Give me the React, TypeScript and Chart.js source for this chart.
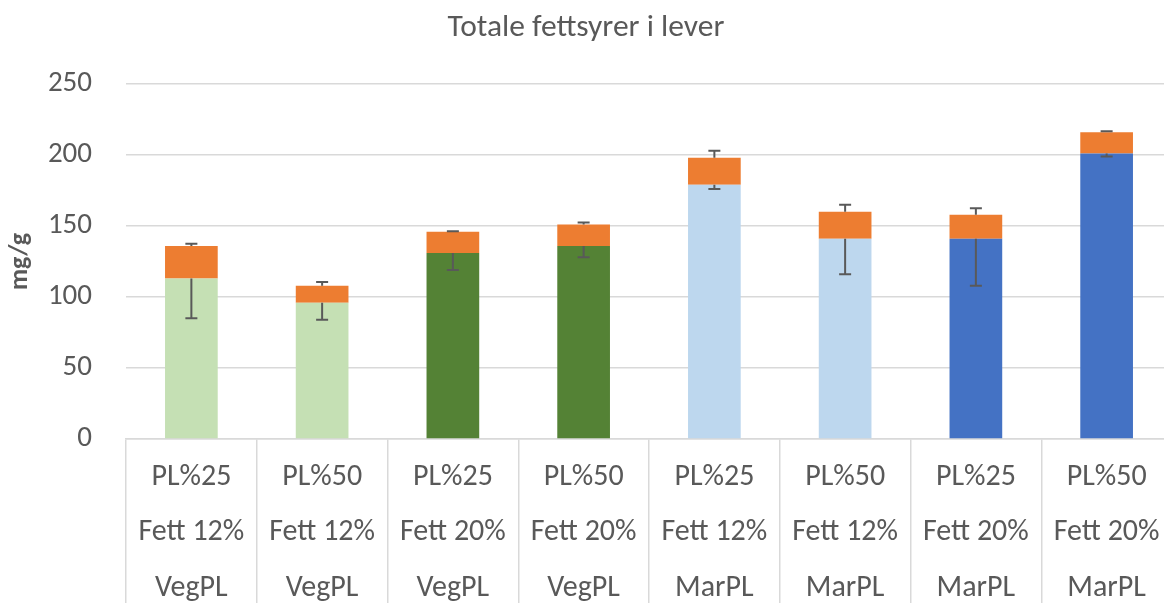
import React, { useEffect, useRef } from "react";
import { Chart, registerables } from "chart.js";

Chart.register(...registerables);

// ---- data ----
const plLabels = ["PL%25", "PL%50", "PL%25", "PL%50", "PL%25", "PL%50", "PL%25", "PL%50"];
const fatLabels = ["Fett 12%", "Fett 12%", "Fett 20%", "Fett 20%", "Fett 12%", "Fett 12%", "Fett 20%", "Fett 20%"];
const groupLabels = ["VegPL", "VegPL", "VegPL", "VegPL", "MarPL", "MarPL", "MarPL", "MarPL"];

const baseValues = [113, 96, 131, 136, 179, 141, 141, 201];
const topValues = [23, 12, 15, 15, 19, 19, 17, 15];
const baseErrMinus = [28, 12, 12, 8, 3, 25, 33, 2];
const topErrPlus = [1.5, 2.5, 0.3, 1.5, 5, 5, 4.5, 0.7];

const yTickValues = [0, 50, 100, 150, 200, 250];

const baseColors = ["#C5E0B4", "#C5E0B4", "#548235", "#548235", "#BDD7EE", "#BDD7EE", "#4472C4", "#4472C4"];
const topColor = "#ED7D31";

const TEXT = "#595959";
const GRID = "#D9D9D9";
const FONT = "Carlito, Lato, 'Open Sans', sans-serif";

const CANVAS_W = 1183;
const CANVAS_H = 640;

const errorBarPlugin = {
  id: "errorBars",
  afterDatasetsDraw(chart: any) {
    const { ctx, scales } = chart;
    const y = scales.y;
    const metaBase = chart.getDatasetMeta(0);
    const cap = 6;
    ctx.save();
    ctx.strokeStyle = TEXT;
    ctx.lineWidth = 2;
    baseValues.forEach((v, i) => {
      const px = metaBase.data[i].x;
      const y0 = y.getPixelForValue(v);
      const y1 = y.getPixelForValue(v - baseErrMinus[i]);
      ctx.beginPath();
      ctx.moveTo(px, y0);
      ctx.lineTo(px, y1);
      ctx.moveTo(px - cap, y1);
      ctx.lineTo(px + cap, y1);
      ctx.stroke();
      const total = v + topValues[i];
      const t0 = y.getPixelForValue(total);
      const t1 = y.getPixelForValue(total + topErrPlus[i]);
      ctx.beginPath();
      ctx.moveTo(px, t0);
      ctx.lineTo(px, t1);
      ctx.moveTo(px - cap, t1);
      ctx.lineTo(px + cap, t1);
      ctx.stroke();
    });
    ctx.restore();
  },
};

export default function App() {
  const ref = useRef<HTMLCanvasElement>(null);

  useEffect(() => {
    if (!ref.current) return;
    const labels = plLabels.map((p, i) => [p, fatLabels[i], groupLabels[i]]);
    const chart = new Chart(ref.current, {
      type: "bar",
      data: {
        labels,
        datasets: [
          {
            label: "base",
            data: baseValues,
            backgroundColor: baseColors,
            barPercentage: 0.403,
            categoryPercentage: 1,
          },
          {
            label: "top",
            data: topValues,
            backgroundColor: topColor,
            barPercentage: 0.403,
            categoryPercentage: 1,
          },
        ],
      },
      plugins: [errorBarPlugin],
      options: {
        responsive: false,
        animation: false,
        devicePixelRatio: 1,
        layout: { padding: { left: 0, right: 11, top: 0, bottom: 0 } },
        plugins: {
          legend: { display: false },
          tooltip: { enabled: false },
          title: {
            display: true,
            text: "Totale fettsyrer i lever",
            color: TEXT,
            font: { family: FONT, size: 31.5, weight: "normal" },
            padding: { top: 9.1, bottom: 37.1 },
          },
        },
        scales: {
          x: {
            stacked: true,
            offset: true,
            border: { display: true, color: GRID, width: 1.5 },
            grid: {
              offset: true,
              drawOnChartArea: false,
              drawTicks: true,
              tickLength: 200,
              color: GRID,
              lineWidth: 1.5,
            },
            ticks: {
              color: TEXT,
              autoSkip: false,
              maxRotation: 0,
              minRotation: 0,
              padding: 10.25 - 200,
              font: { family: FONT, size: 30, lineHeight: 55.5 / 30 },
            },
            afterFit: (scale: any) => {
              scale.height = CANVAS_H - 439;
            },
          },
          y: {
            stacked: true,
            min: 0,
            max: 250,
            border: { display: false },
            grid: { color: GRID, lineWidth: 1.5, drawTicks: false },
            afterBuildTicks: (scale: any) => {
              scale.ticks = yTickValues.map((v) => ({ value: v }));
            },
            ticks: {
              color: TEXT,
              padding: 34,
              font: { family: FONT, size: 29 },
            },
            title: {
              display: true,
              text: "mg/g",
              color: TEXT,
              font: { family: FONT, size: 26, weight: "bold" },
              padding: { top: 5, bottom: 0 },
            },
            afterFit: (scale: any) => {
              scale.width = 126;
            },
          },
        },
      },
    } as any);
    return () => chart.destroy();
  }, []);

  return (
    <div
      style={{
        position: "fixed",
        left: 0,
        top: 0,
        width: 1164,
        height: 603,
        overflow: "hidden",
        background: "#fff",
      }}
    >
      <canvas
        ref={ref}
        width={CANVAS_W}
        height={CANVAS_H}
        style={{ display: "block", width: CANVAS_W, height: CANVAS_H }}
      />
    </div>
  );
}
